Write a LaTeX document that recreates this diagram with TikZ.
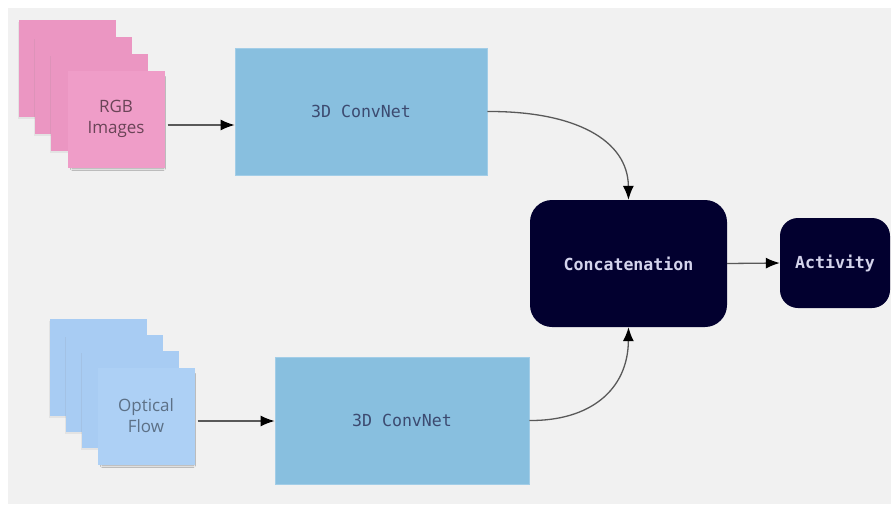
\documentclass[tikz,border=0pt]{standalone}
\usepackage{fontspec}
\setmainfont{Open Sans}
\newfontfamily\codefont{DejaVu Sans Mono}
\usetikzlibrary{arrows.meta,shadows.blur}

\definecolor{canvas}{HTML}{F1F1F1}
\definecolor{pinknote}{HTML}{EB96C2}
\definecolor{pinkfront}{HTML}{EF9DC8}
\definecolor{bluenote}{HTML}{A8CCF3}
\definecolor{bluefront}{HTML}{ADD0F5}
\definecolor{netblue}{HTML}{88BFDF}
\definecolor{netedge}{HTML}{A2CDE7}
\definecolor{nettext}{HTML}{3C4A70}
\definecolor{navy}{HTML}{02002F}
\definecolor{navytext}{HTML}{D4D4EC}

\tikzset{
    note/.style={minimum width=97pt, minimum height=97pt, inner sep=0pt,
        align=center, font=\fontsize{17}{21}\selectfont},
    netbox/.style={fill=netblue, draw=netedge, line width=0.8pt,
        minimum width=252pt, minimum height=127pt,
        text=nettext, font=\codefont\fontsize{16.6}{20}\selectfont},
    darkbox/.style={fill=navy, rounded corners=22pt,
        text=navytext, font=\codefont\bfseries\fontsize{16.6}{20}\selectfont},
    flow/.style={draw=black!65, line width=1.3pt,
        -{Latex[black,length=14pt,width=11pt]}}
}

\begin{document}
\begin{tikzpicture}[x=1pt,y=-1pt]
    \useasboundingbox[fill=white] (0,0) rectangle (891,504);
    \fill[canvas] (8,8) rectangle (891,504);

    % RGB stack of sheets
    \foreach \i in {0,1,2}{
        \node[note, fill=pinknote, drop shadow={shadow xshift=-1pt, shadow yshift=-2pt, opacity=0.12}] (rgbsheet\i)
            at (67.5+16.2*\i, 68.5+16.8*\i) {};
    }
    \node[note, fill=pinkfront, text=black!55!pinknote,
        blur shadow={shadow xshift=2pt, shadow yshift=-4pt, shadow scale=0.94, shadow opacity=35}]
        (rgb) at (116,119) {RGB\\Images};

    % Optical flow stack of sheets
    \foreach \i in {0,1,2}{
        \node[note, fill=bluenote, drop shadow={shadow xshift=-1pt, shadow yshift=-2pt, opacity=0.12}] (flowsheet\i)
            at (98+16*\i, 367+16.3*\i) {};
    }
    \node[note, fill=bluefront, text=black!45!bluenote,
        blur shadow={shadow xshift=2pt, shadow yshift=-4pt, shadow scale=0.94, shadow opacity=35}]
        (flow) at (146,416) {Optical\\Flow};

    % Two streams
    \node[netbox] (rgbnet) at (361,111.5) {3D ConvNet};
    \node[netbox, minimum width=254pt] (flownet) at (402,420.5) {3D ConvNet};

    % Fusion and output
    \node[darkbox, minimum width=197pt, minimum height=127pt] (concat) at (628.5,263.5) {Concatenation};
    \node[darkbox, rounded corners=18pt, minimum width=110pt, minimum height=90pt] (activity) at (835,263) {Activity};

    % Connectors
    \coordinate (rgbout) at ([xshift=3pt,yshift=-6pt]rgb.east);
    \coordinate (flowout) at ([xshift=3pt,yshift=-5pt]flow.east);
    \draw[flow] (rgbout) -- (rgbout -| rgbnet.west);
    \draw[flow] (flowout) -- (flowout -| flownet.west);
    \draw[flow] (rgbnet.east) .. controls (575,111) and (628,140) .. (concat.north);
    \draw[flow] (flownet.east) .. controls (590,421) and (628,390) .. (concat.south);
    \draw[flow] (concat.east) -- (activity.west);
\end{tikzpicture}
\end{document}
